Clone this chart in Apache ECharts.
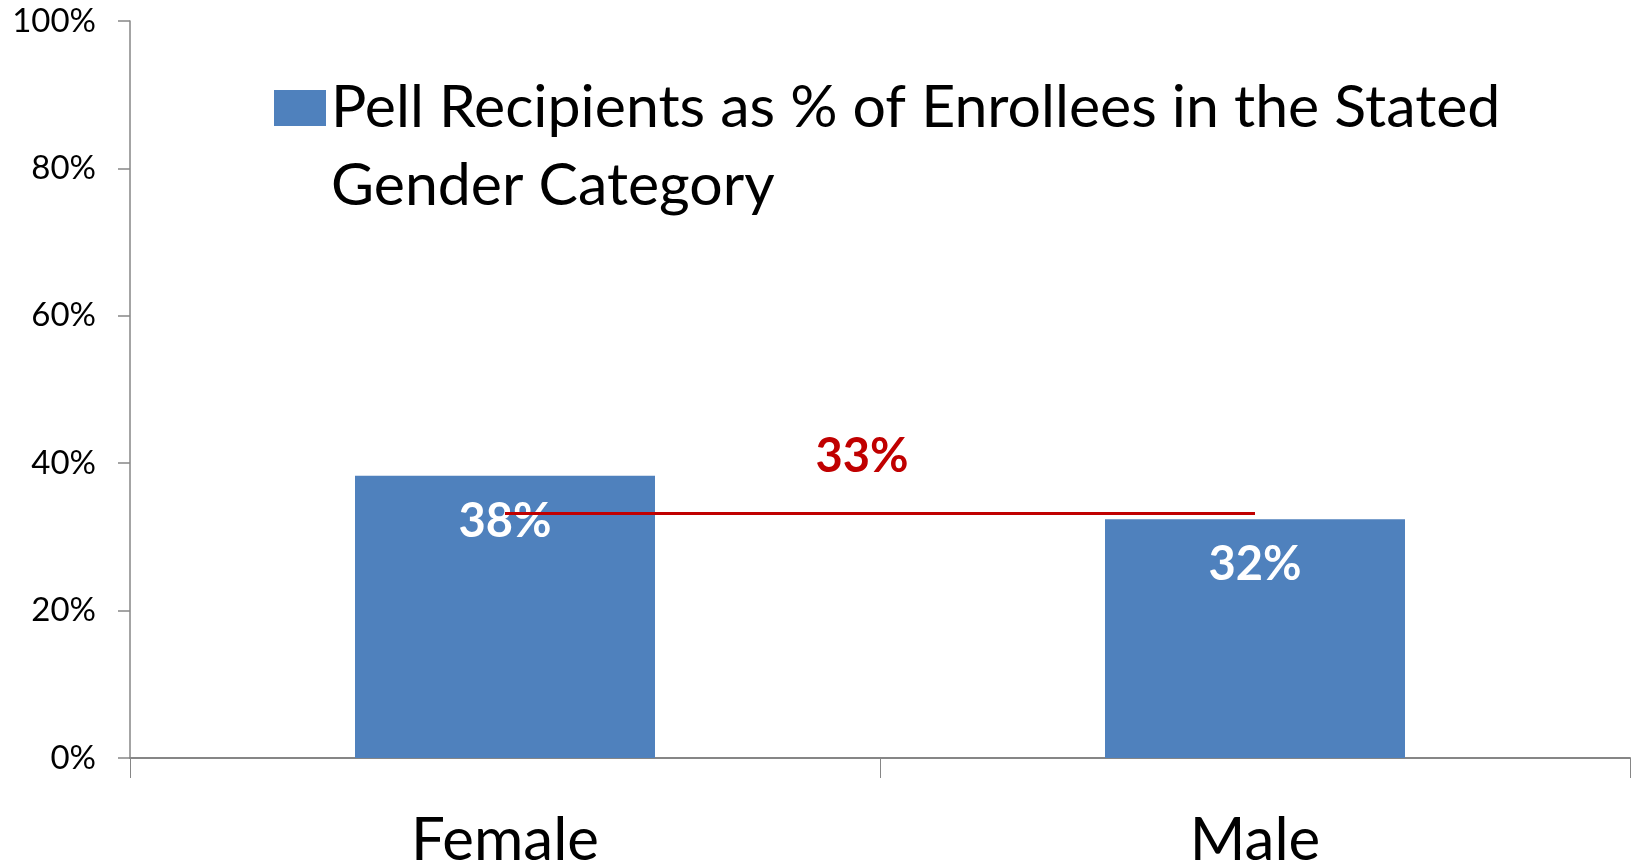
<!DOCTYPE html>
<html>
<head>
<meta charset="utf-8">
<script src="https://cdn.jsdelivr.net/npm/echarts@6.0.0/dist/echarts.min.js"></script>
<style>
html,body{margin:0;padding:0;background:#fff;}
#barChart{width:1636px;height:865px;}
</style>
</head>
<body>
<div id="barChart"></div>
<script>
var categories=['Female','Male'];
var pell_share=[38.3,32.4];
var overall_share=33.2;
var tick_values=[0,20,40,60,80,100];
var series_name='Pell Recipients as % of Enrollees in the Stated Gender Category';

var font='Lato';

var option={
	animation:false,
	grid:{left:130,right:6,top:21,bottom:107,outerBoundsMode:'none',containLabel:false},
	legend:{
		data:[series_name],
		left:274,
		top:-9,
		padding:0,
		selectedMode:false,
		itemWidth:52,
		itemHeight:36,
		itemGap:0,
		icon:'rect',
		// blank first line so the icon sits beside the first text line
		formatter:function(name){return '\n'+name;},
		textStyle:{
			fontFamily:font,
			fontSize:59,
			color:'#000',
			lineHeight:78,
			width:1230,
			overflow:'break'
		}
	},
	xAxis:[
		{
			type:'category',
			data:categories,
			axisLine:{lineStyle:{color:'#868686',width:2}},
			axisTick:{show:true,length:20,lineStyle:{color:'#868686',width:1}},
			axisLabel:{fontFamily:font,fontSize:60,color:'#000',margin:53}
		}
	],
	yAxis:[
		{
			type:'value',
			min:0,
			max:100,
			interval:20,
			splitLine:{show:false},
			axisLine:{show:true,lineStyle:{color:'#868686',width:1.5}},
			axisTick:{show:true,length:12,lineStyle:{color:'#868686',width:1.5}},
			axisLabel:{
				fontFamily:font,fontSize:33,color:'#000',margin:34,
				formatter:function(v){
					return tick_values.indexOf(v)>-1 ? v+'%' : '';
				}
			}
		}
	],
	series:[
		{
			name:series_name,
			type:'bar',
			data:pell_share,
			barWidth:'40%',
			itemStyle:{color:'#4F81BD'},
			label:{
				show:true,
				position:['50%',46],
				align:'center',
				verticalAlign:'middle',
				fontFamily:font,
				fontSize:47,
				fontWeight:'bold',
				color:'#fff',
				formatter:function(p){return Math.round(p.value)+'%';}
			},
			markLine:{
				silent:true,
				symbol:'none',
				lineStyle:{color:'#C00000',width:3,type:'solid'},
				label:{
					show:true,
					position:'middle',
					offset:[-18,-28],
					fontFamily:font,
					fontSize:47,
					fontWeight:'bold',
					color:'#C00000',
					formatter:function(){return Math.round(overall_share)+'%';}
				},
				data:[
					[
						{coord:[categories[0],overall_share]},
						{coord:[categories[1],overall_share]}
					]
				]
			}
		}
	]
};
var chart=echarts.init(document.getElementById('barChart'));
chart.setOption(option);
</script>
</body>
</html>
